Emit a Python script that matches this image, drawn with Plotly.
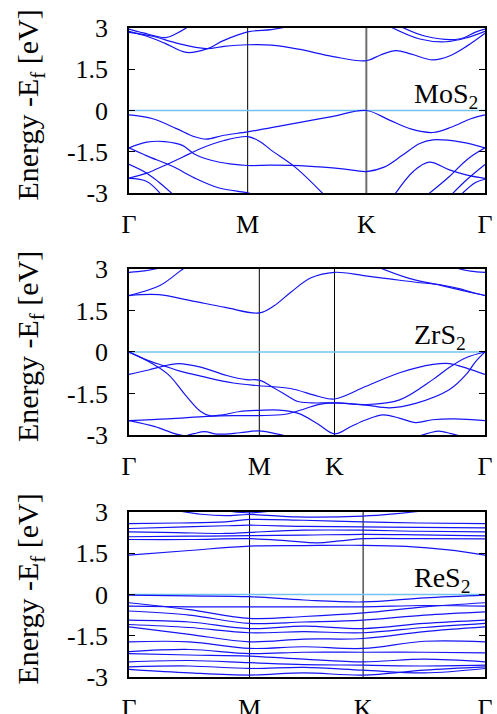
import plotly.graph_objects as go

# ---------------------------------------------------------------------------
# Band structures of three monolayer TMDs along Γ–M–K–Γ (energies in eV, E - Ef)
# Each band is (k positions, energies); k is the path coordinate of the panel.
# ---------------------------------------------------------------------------
KPATH_LABELS = ["Γ", "M", "K", "Γ"]
Y_TICKS = [-3, -1.5, 0, 1.5, 3]
Y_TICK_TEXT = ["-3", "-1.5", "0", "1.5", "3"]

MOS2_KTICKS = [0, 1, 2, 3]
ZRS2_KTICKS = [0, 1, 1.577, 2.732]
RES2_KTICKS = [0, 1, 1.942, 2.953]

MATERIALS = ["MoS<sub>2</sub>", "ZrS<sub>2</sub>", "ReS<sub>2</sub>"]

MOS2_BANDS = [
    # conduction
    ([0, 0.15, 0.3, 0.485, 0.65, 0.8, 1.0, 1.2, 1.34],
     [2.88, 2.7, 2.45, 2.11, 2.23, 2.55, 2.86, 2.94, 3.05]),
    ([0, 0.2, 0.4, 0.65, 0.8, 1.0, 1.2, 1.43, 1.72, 2.0, 2.12, 2.25, 2.38, 2.56, 2.7, 2.85, 3.0],
     [2.84, 2.7, 2.45, 2.25, 2.33, 2.39, 2.38, 2.23, 1.96, 1.81, 2.02, 2.18, 2.05, 1.84, 1.98, 2.35, 2.81]),
    ([0, 0.12, 0.31, 0.4, 0.5],
     [2.96, 2.82, 2.65, 2.8, 3.05]),
    ([2.2, 2.45, 2.67, 2.85, 3.0],
     [3.05, 2.6, 2.5, 2.65, 2.88]),
    ([2.29, 2.5, 2.78, 2.92, 3.0],
     [3.05, 2.7, 2.6, 2.85, 2.96]),
    # valence
    ([0, 0.2, 0.4, 0.55, 0.65, 0.8, 1.0, 1.2, 1.43, 1.71, 2.0, 2.2, 2.38, 2.56, 2.72, 2.88, 3.0],
     [-0.16, -0.3, -0.66, -0.95, -1.04, -0.9, -0.78, -0.62, -0.44, -0.22, 0.0, -0.36, -0.68, -0.8, -0.6, -0.3, -0.16]),
    ([0, 0.15, 0.3, 0.45, 0.6, 0.8, 1.0, 1.1, 1.2, 1.4, 1.64],
     [-2.46, -2.28, -2.0, -1.7, -1.39, -1.09, -0.95, -1.12, -1.45, -2.06, -3.05]),
    ([0, 0.15, 0.3, 0.45, 0.55, 0.7, 0.85, 1.0, 1.2, 1.5, 1.8, 2.0, 2.15, 2.3, 2.45, 2.56, 2.8, 3.0],
     [-1.36, -1.15, -1.13, -1.27, -1.58, -1.82, -1.94, -2.0, -1.99, -2.02, -2.12, -2.22, -2.06, -1.64, -1.2, -1.07, -1.15, -1.36]),
    ([0, 0.15, 0.37, 0.55, 0.76, 0.98, 1.05],
     [-1.36, -1.65, -2.04, -2.45, -2.82, -2.98, -3.05]),
    ([0, 0.15, 0.25, 0.37],
     [-1.96, -2.28, -2.6, -3.05]),
    ([0, 0.15, 0.27],
     [-2.47, -2.58, -3.05]),
    ([2.24, 2.4, 2.53, 2.7, 2.84, 3.0],
     [-3.05, -2.2, -1.88, -2.16, -2.34, -2.47]),
    ([2.52, 2.7, 2.85, 3.0],
     [-3.05, -2.4, -1.78, -1.36]),
    ([2.72, 2.85, 3.0],
     [-3.05, -2.5, -1.96]),
    ([2.8, 2.92, 3.0],
     [-3.05, -2.62, -2.5]),
]

ZRS2_BANDS = [
    # conduction
    ([0, 0.23, 0.48, 0.74, 1.0, 1.113, 1.242, 1.397, 1.577, 1.8, 2.0, 2.2, 2.4, 2.55, 2.65, 2.732],
     [2.04, 2.07, 1.85, 1.61, 1.41, 1.67, 2.16, 2.68, 2.88, 2.76, 2.64, 2.52, 2.42, 2.27, 2.13, 2.04]),
    ([1.92, 2.15, 2.4, 2.58, 2.732],
     [3.05, 2.66, 2.4, 2.2, 2.04]),
    ([0, 0.237, 0.415, 0.44],
     [2.04, 2.4, 3.0, 3.05]),
    ([0, 0.12, 0.25],
     [2.88, 2.93, 3.05]),
    ([2.5, 2.62, 2.732],
     [3.05, 2.92, 2.88]),
    # valence
    ([0, 0.16, 0.27, 0.39, 0.55, 0.8, 1.0, 1.24, 1.45, 1.577, 1.82, 2.077, 2.334, 2.46, 2.6, 2.732],
     [0, -0.33, -0.5, -0.69, -0.87, -1.12, -1.22, -1.32, -1.6, -1.70, -1.24, -0.75, -0.45, -0.42, -0.6, -0.81]),
    ([0, 0.15, 0.27, 0.38, 0.55, 0.75, 0.9, 1.0, 1.113, 1.22, 1.29, 1.4, 1.577, 1.82, 2.0, 2.2, 2.46, 2.59, 2.66, 2.732],
     [-0.81, -0.65, -0.5, -0.42, -0.55, -0.85, -1.0, -1.02, -1.3, -1.6, -1.78, -1.84, -1.84, -1.92, -2.02, -1.86, -1.36, -0.8, -0.35, 0]),
    ([0, 0.12, 0.3, 0.43, 0.55, 0.62, 0.72, 0.85, 1.0, 1.15, 1.3, 1.45, 1.577, 1.7, 1.82, 1.95, 2.08, 2.2, 2.33, 2.5, 2.732],
     [0, -0.27, -0.81, -1.54, -2.15, -2.3, -2.27, -2.15, -2.11, -2.1, -2.22, -2.6, -2.96, -2.7, -2.45, -2.27, -2.4, -2.55, -2.45, -2.42, -2.48]),
    ([0, 0.3, 0.6, 0.8, 1.0, 1.2, 1.35, 1.45, 1.577, 1.82, 2.077, 2.334, 2.46, 2.59, 2.732],
     [-2.48, -2.42, -2.33, -2.3, -2.3, -2.25, -2.05, -1.9, -1.84, -1.9, -1.73, -0.99, -0.55, -0.2, 0]),
    ([0, 0.2, 0.35, 0.45],
     [-2.48, -2.7, -2.95, -3.05]),
    ([0.42, 0.5, 0.58, 0.68, 0.85, 1.0, 1.12, 1.22],
     [-3.05, -2.95, -2.88, -2.97, -2.92, -2.85, -2.95, -3.05]),
    ([2.22, 2.31, 2.38, 2.47, 2.55],
     [-3.05, -2.92, -2.86, -2.95, -3.05]),
]

RES2_BANDS = [
    # conduction
    ([0, 0.5, 1.0, 1.45, 1.942, 2.3, 2.65, 2.953],
     [1.43, 1.6, 1.76, 1.78, 1.79, 1.75, 1.62, 1.43]),
    ([0, 0.5, 1.0, 1.3, 1.56, 1.75, 1.942, 2.4, 2.953],
     [2.0, 2.0, 2.03, 1.96, 1.88, 1.95, 2.03, 2.03, 2.02]),
    ([0, 0.5, 1.0, 1.45, 1.942, 2.4, 2.953],
     [2.1, 2.12, 2.14, 2.16, 2.19, 2.17, 2.13]),
    ([0, 0.4, 0.8, 1.0, 1.45, 1.942, 2.4, 2.953],
     [2.28, 2.25, 2.22, 2.26, 2.34, 2.34, 2.3, 2.28]),
    ([0, 0.4, 0.8, 1.0, 1.45, 1.942, 2.4, 2.953],
     [2.4, 2.45, 2.5, 2.52, 2.48, 2.46, 2.44, 2.42]),
    ([0, 0.4, 0.8, 1.0, 1.45, 1.942, 2.4, 2.953],
     [2.58, 2.6, 2.64, 2.73, 2.7, 2.64, 2.6, 2.58]),
    ([0.4, 0.6, 0.8, 1.0, 1.4, 1.942, 2.2, 2.45],
     [3.05, 2.92, 2.87, 2.91, 2.82, 2.85, 2.93, 3.05]),
    ([0.8, 1.0, 1.2],
     [3.05, 2.97, 3.05]),
    # valence
    ([0, 0.5, 1.0, 1.45, 1.942, 2.45, 2.953],
     [-0.02, -0.05, -0.08, -0.2, -0.27, -0.12, -0.02]),
    ([0, 0.5, 1.0, 1.45, 1.942, 2.45, 2.953],
     [-0.3, -0.55, -0.87, -0.8, -0.67, -0.45, -0.3]),
    ([0, 0.5, 1.0, 1.45, 1.942, 2.45, 2.953],
     [-0.42, -0.45, -0.45, -0.45, -0.45, -0.4, -0.42]),
    ([0, 0.5, 1.0, 1.45, 1.942, 2.45, 2.953],
     [-0.6, -0.75, -1.05, -1.0, -0.93, -0.75, -0.63]),
    ([0, 0.5, 1.0, 1.45, 1.942, 2.45, 2.953],
     [-0.93, -1.0, -1.24, -1.15, -1.24, -1.05, -0.93]),
    ([0, 0.5, 1.0, 1.45, 1.942, 2.45, 2.953],
     [-1.09, -1.2, -1.39, -1.35, -1.39, -1.2, -1.05]),
    ([0, 0.5, 1.0, 1.45, 1.942, 2.45, 2.953],
     [-1.18, -1.45, -1.72, -1.62, -1.6, -1.35, -1.18]),
    ([0, 0.5, 1.0, 1.45, 1.942, 2.45, 2.953],
     [-1.72, -1.72, -1.96, -1.9, -1.96, -1.7, -1.72]),
    ([0, 0.5, 1.0, 1.45, 1.942, 2.45, 2.953],
     [-2.08, -2.0, -2.15, -2.1, -2.1, -2.1, -2.12]),
    ([0, 0.5, 1.0, 1.45, 1.942, 2.45, 2.953],
     [-2.15, -2.2, -2.24, -2.35, -2.45, -2.35, -2.45]),
    ([0, 0.5, 1.0, 1.45, 1.942, 2.45, 2.953],
     [-2.45, -2.4, -2.48, -2.55, -2.57, -2.6, -2.57]),
    ([0, 0.5, 1.0, 1.45, 1.942, 2.45, 2.953],
     [-2.63, -2.6, -2.69, -2.65, -2.75, -2.85, -2.69]),
    ([0, 0.5, 1.0, 1.45, 1.942, 2.45, 2.953],
     [-2.72, -2.85, -2.93, -2.85, -2.93, -2.75, -2.63]),
]

PANELS = [
    (MOS2_KTICKS, MOS2_BANDS, MATERIALS[0]),
    (ZRS2_KTICKS, ZRS2_BANDS, MATERIALS[1]),
    (RES2_KTICKS, RES2_BANDS, MATERIALS[2]),
]

# vertical extent of each panel (paper coordinates, top margin 28 px, bottom 37 px)
DOMAINS = [[0.7458, 1.0], [0.3729, 0.6287], [0.0, 0.2542]]

BAND_COLOR = "rgb(20,20,245)"
FERMI_COLOR = "#72c4ee"
SERIF = "Liberation Serif, Times New Roman, serif"

fig = go.Figure()
shapes = []
annotations = []

for i, (kticks, bands, name) in enumerate(PANELS, start=1):
    xa = "x" if i == 1 else f"x{i}"
    ya = "y" if i == 1 else f"y{i}"

    # Fermi level
    fig.add_trace(go.Scatter(
        x=[kticks[0], kticks[-1]], y=[0, 0], xaxis=xa, yaxis=ya, mode="lines",
        line=dict(color=FERMI_COLOR, width=1.5), hoverinfo="skip", showlegend=False))

    for kx, ey in bands:
        fig.add_trace(go.Scatter(
            x=kx, y=ey, xaxis=xa, yaxis=ya, mode="lines",
            line=dict(color=BAND_COLOR, width=1.2, shape="spline", smoothing=1.0),
            hoverinfo="skip", showlegend=False))

    # high-symmetry point markers (M and K)
    for j, kv in enumerate(kticks[1:-1]):
        grey = (i == 1 and j == 1)
        shapes.append(dict(
            type="line", xref=xa, yref=f"{ya} domain", x0=kv, x1=kv, y0=0, y1=1,
            line=dict(color="#6e6e6e" if grey else "black", width=2 if grey else 1),
            layer="below"))

    axis_font = dict(family=SERIF, size=26, color="black")
    fig.update_layout(**{
        ("xaxis" if i == 1 else f"xaxis{i}"): dict(
            domain=[0, 1], anchor=ya, range=[kticks[0], kticks[-1]],
            tickmode="array", tickvals=kticks, ticktext=KPATH_LABELS,
            ticks="", showgrid=False, zeroline=False, automargin=False,
            showline=True, mirror=True, linecolor="black", linewidth=1.5,
            tickfont=axis_font, ticklabelstandoff=7),
        ("yaxis" if i == 1 else f"yaxis{i}"): dict(
            domain=DOMAINS[i - 1], anchor=xa, range=[-3, 3],
            tickmode="array", tickvals=Y_TICKS, ticktext=Y_TICK_TEXT,
            ticks="inside", ticklen=6, tickwidth=1.2, tickcolor="black",
            showgrid=False, zeroline=False, automargin=False,
            showline=True, mirror="ticks", linecolor="black", linewidth=1.5,
            tickfont=axis_font, ticklabelstandoff=14),
    })

    # material label
    annotations.append(dict(
        text=name, xref=f"{xa} domain", yref=ya, x=0.795, y=0.55,
        xanchor="left", yanchor="middle", showarrow=False,
        font=dict(family=SERIF, size=28, color="black")))

    # energy axis title
    annotations.append(dict(
        text="Energy -E<sub>f</sub> [eV]", xref="paper", yref=f"{ya} domain",
        x=-0.278, y=0.53, xanchor="center", yanchor="middle", textangle=-90,
        showarrow=False, font=dict(family=SERIF, size=30, color="black")))

fig.update_layout(
    width=497, height=714,
    margin=dict(l=129, r=12, t=28, b=37, autoexpand=False),
    paper_bgcolor="white", plot_bgcolor="white",
    shapes=shapes, annotations=annotations,
    showlegend=False,
)

fig.write_html("out.html")
